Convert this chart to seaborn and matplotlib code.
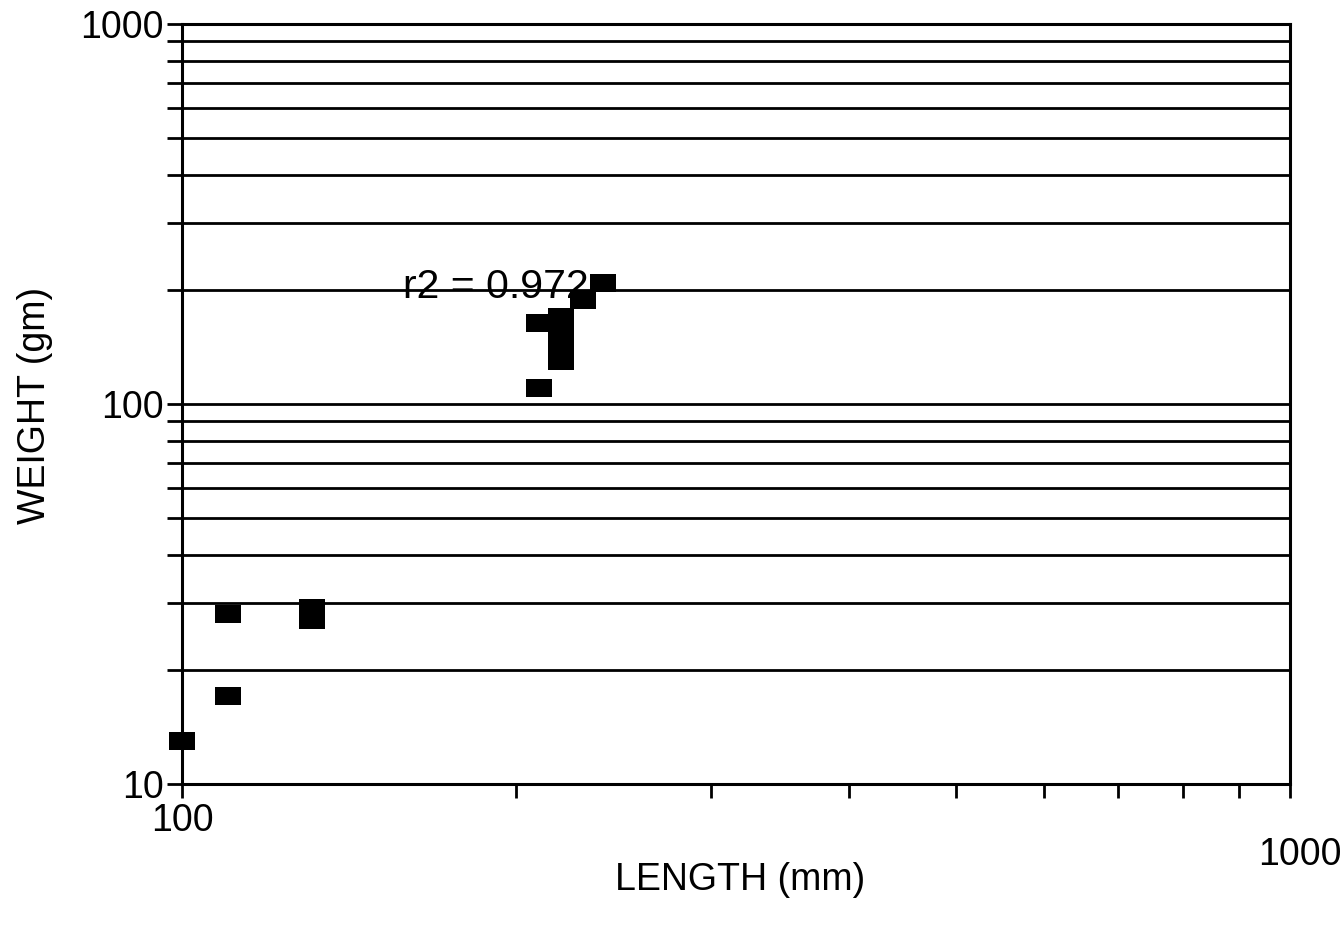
import matplotlib
matplotlib.use("Agg")
import matplotlib.pyplot as plt
import seaborn as sns
import pandas as pd
from matplotlib.markers import MarkerStyle
from matplotlib.path import Path
from matplotlib.ticker import NullFormatter
import matplotlib.transforms as mtransforms

# ---- data ----
length_mm = [100, 110, 110, 131, 131, 210, 210, 220, 220, 220, 220, 230, 240]
weight_gm = [13, 28, 17, 29, 27, 110, 163, 130, 142, 155, 169, 188, 208]
x_tick_labels = ["100", "1000"]
y_tick_labels = ["10", "100", "1000"]
r2_label = "r2 = 0.972"

sns.set_theme(style="white")
plt.rcParams["font.family"] = ["Liberation Sans", "DejaVu Sans"]

df = pd.DataFrame({"LENGTH": length_mm, "WEIGHT": weight_gm})

fig = plt.figure(figsize=(13.43, 9.32), dpi=100)
ax = fig.add_axes([182 / 1343, 1 - 784 / 932, (1290 - 182) / 1343, (784 - 24) / 932])

# rectangular marker (wider than tall)
rect = Path([(-1, -0.69), (1, -0.69), (1, 0.69), (-1, 0.69), (-1, -0.69)],
            [Path.MOVETO, Path.LINETO, Path.LINETO, Path.LINETO, Path.CLOSEPOLY])
sns.scatterplot(data=df, x="LENGTH", y="WEIGHT", ax=ax, marker=MarkerStyle(rect),
                s=350, color="black", edgecolor="none", linewidth=0, zorder=5,
                legend=False, clip_on=False)

ax.set_xscale("log")
ax.set_yscale("log")
ax.set_xlim(100, 1000)
ax.set_ylim(10, 1000)

# y ticks / grid
ax.set_yticks([10, 100, 1000], labels=y_tick_labels)
ax.set_yticks([v * d for d in (10, 100) for v in range(2, 10)], minor=True)
ax.yaxis.set_minor_formatter(NullFormatter())
ax.yaxis.grid(True, which="both", color="black", linewidth=2.0)
ax.xaxis.grid(False, which="both")

# x ticks
ax.set_xticks([100, 1000], labels=[x_tick_labels[0], ""])
ax.set_xticks([v * 100 for v in range(2, 10)], minor=True)
ax.xaxis.set_minor_formatter(NullFormatter())

ax.tick_params(axis="y", which="both", direction="out", length=11, width=2.0,
               color="black", left=True, pad=2, labelsize=27, labelcolor="black")
ax.tick_params(axis="x", which="both", direction="out", length=10, width=2.0,
               color="black", bottom=True, pad=4, labelsize=27, labelcolor="black")

for sp in ax.spines.values():
    sp.set_visible(True)
    sp.set_color("black")
    sp.set_linewidth(2.2)

# separately placed "1000" x label (lower, as in reference)
trans = mtransforms.blended_transform_factory(ax.transData, ax.transAxes)
ax.text(1021, -0.0934, x_tick_labels[1], transform=trans, ha="center", va="center",
        fontsize=27, color="black", clip_on=False)

ax.set_xlabel("LENGTH (mm)", fontsize=27, color="black")
ax.xaxis.label.set_va("center")
ax.xaxis.set_label_coords(0.5036, -0.126)
ax.set_ylabel("WEIGHT (gm)", fontsize=27, color="black")
ax.yaxis.label.set_va("center")
ax.yaxis.set_label_coords(-0.1327, 0.4987)

ax.text(158.3, 203, r2_label, ha="left", va="center", fontsize=29.5, color="black",
        zorder=4)

fig.savefig("out.png", dpi=100, facecolor="white")
